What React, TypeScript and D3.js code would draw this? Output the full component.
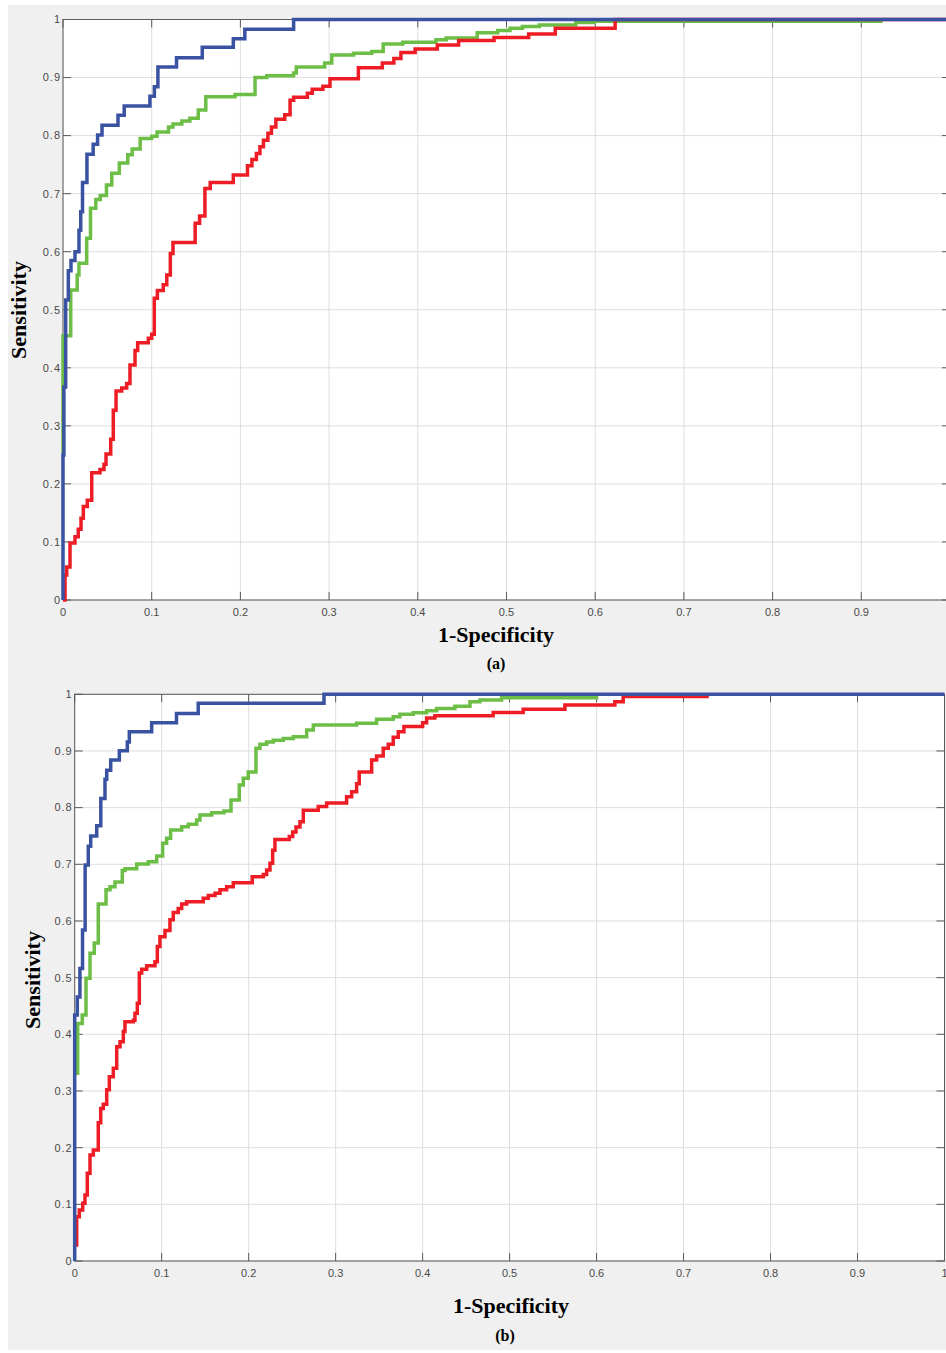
import React, { useEffect, useRef } from "react";
import * as d3 from "d3";

type Pt = [number, number];

// shared axis ticks (0 .. 1 step 0.1)
const tickValues = [0, 0.1, 0.2, 0.3, 0.4, 0.5, 0.6, 0.7, 0.8, 0.9, 1];
const xLabel = "1-Specificity";
const yLabel = "Sensitivity";

// ROC points [1-specificity, sensitivity]
const blueA: Pt[] = [
  [0, 0], [0, 0.25], [0.001, 0.367], [0.003, 0.517], [0.006, 0.567], [0.009, 0.585],
  [0.0135, 0.6], [0.018, 0.637], [0.02, 0.669], [0.022, 0.719], [0.027, 0.768],
  [0.034, 0.785], [0.039, 0.801], [0.044, 0.818], [0.062, 0.835], [0.069, 0.851],
  [0.098, 0.868], [0.103, 0.884], [0.107, 0.918], [0.128, 0.934], [0.157, 0.952],
  [0.192, 0.967], [0.205, 0.983], [0.26, 1], [1, 1],
];

const greenA: Pt[] = [
  [0, 0.253], [0, 0.455], [0.0087, 0.534], [0.016, 0.56], [0.018, 0.58], [0.0267, 0.623],
  [0.031, 0.675], [0.037, 0.69], [0.042, 0.697], [0.049, 0.715], [0.055, 0.735],
  [0.0635, 0.753], [0.073, 0.767], [0.078, 0.777], [0.087, 0.795], [0.1, 0.799],
  [0.106, 0.806], [0.119, 0.815], [0.124, 0.82], [0.134, 0.825], [0.143, 0.83],
  [0.1525, 0.844], [0.161, 0.867], [0.194, 0.871], [0.2165, 0.9], [0.2297, 0.903],
  [0.26, 0.908], [0.263, 0.918], [0.295, 0.925], [0.303, 0.939], [0.3276, 0.942],
  [0.348, 0.945], [0.361, 0.958], [0.383, 0.961], [0.4205, 0.965], [0.432, 0.968],
  [0.467, 0.977], [0.49, 0.981], [0.504, 0.985], [0.518, 0.988], [0.537, 0.9905],
  [0.578, 0.995], [0.599, 0.997], [0.922, 1],
];

const redA: Pt[] = [
  [0, 0], [0.0023, 0.043], [0.0042, 0.057], [0.0079, 0.098], [0.0135, 0.109],
  [0.0172, 0.122], [0.0203, 0.141], [0.0229, 0.161], [0.0274, 0.172], [0.0324, 0.219],
  [0.0417, 0.225], [0.0462, 0.234], [0.0485, 0.2515], [0.0538, 0.277], [0.0567, 0.327],
  [0.0598, 0.36], [0.0662, 0.365], [0.0718, 0.373], [0.0755, 0.405], [0.0812, 0.43],
  [0.0842, 0.443], [0.0962, 0.451], [0.1, 0.458], [0.1029, 0.52], [0.1064, 0.533],
  [0.113, 0.543], [0.117, 0.56], [0.121, 0.597], [0.124, 0.616], [0.149, 0.649],
  [0.154, 0.6615], [0.16, 0.709], [0.166, 0.719], [0.192, 0.732], [0.208, 0.748],
  [0.213, 0.759], [0.218, 0.769], [0.222, 0.781], [0.226, 0.792], [0.231, 0.804],
  [0.235, 0.815], [0.24, 0.828], [0.25, 0.836], [0.256, 0.861], [0.26, 0.866],
  [0.2755, 0.873], [0.281, 0.88], [0.293, 0.885], [0.301, 0.898], [0.333, 0.917],
  [0.36, 0.925], [0.373, 0.933], [0.381, 0.943], [0.397, 0.949], [0.422, 0.956],
  [0.446, 0.964], [0.486, 0.969], [0.525, 0.975], [0.555, 0.985], [0.6225, 1], [1, 1],
];

const blueB: Pt[] = [
  [0, 0], [0, 0.434], [0.003, 0.466], [0.006, 0.516], [0.009, 0.584], [0.012, 0.699],
  [0.0156, 0.732], [0.0184, 0.75], [0.0253, 0.768], [0.03, 0.816], [0.0348, 0.85],
  [0.0368, 0.866], [0.0414, 0.884], [0.0513, 0.9005], [0.0605, 0.916], [0.0628, 0.934],
  [0.0885, 0.95], [0.117, 0.966], [0.142, 0.984], [0.2866, 1], [1, 1],
];

const greenB: Pt[] = [
  [0.0034, 0.328], [0.0034, 0.419], [0.0087, 0.434], [0.013, 0.499], [0.0176, 0.543],
  [0.0225, 0.561], [0.0271, 0.63], [0.036, 0.655], [0.0406, 0.6605], [0.0463, 0.669],
  [0.0547, 0.689], [0.0578, 0.692], [0.0713, 0.7005], [0.0846, 0.7046], [0.0943, 0.7147],
  [0.1011, 0.737], [0.1057, 0.746], [0.1103, 0.7605], [0.123, 0.7664], [0.1306, 0.7706],
  [0.1402, 0.778], [0.144, 0.787], [0.1575, 0.791], [0.1716, 0.794], [0.1797, 0.8135],
  [0.1892, 0.84], [0.1938, 0.852], [0.1995, 0.863], [0.2084, 0.905], [0.213, 0.912],
  [0.2207, 0.916], [0.2283, 0.919], [0.2398, 0.922], [0.2513, 0.925], [0.2667, 0.937],
  [0.2743, 0.946], [0.3241, 0.949], [0.3471, 0.956], [0.3662, 0.9605], [0.3739, 0.9647],
  [0.3892, 0.9676], [0.4046, 0.971], [0.4161, 0.975], [0.4371, 0.979], [0.4544, 0.987],
  [0.4659, 0.99], [0.4908, 0.994], [0.6, 1],
];

const redB: Pt[] = [
  [0.0023, 0.025], [0.0023, 0.078], [0.0053, 0.09], [0.0092, 0.102], [0.0118, 0.1165],
  [0.0145, 0.155], [0.0176, 0.187], [0.0214, 0.196], [0.0271, 0.244], [0.0299, 0.269],
  [0.0329, 0.2765], [0.0368, 0.302], [0.0398, 0.325], [0.0444, 0.34], [0.0483, 0.378],
  [0.0521, 0.387], [0.0559, 0.405], [0.0578, 0.422], [0.0674, 0.425], [0.0693, 0.437],
  [0.072, 0.455], [0.0743, 0.508], [0.077, 0.515], [0.0828, 0.521], [0.0923, 0.528],
  [0.095, 0.555], [0.098, 0.572], [0.1038, 0.583], [0.1095, 0.602], [0.1133, 0.615],
  [0.119, 0.622], [0.123, 0.63], [0.1287, 0.634], [0.1478, 0.64], [0.1536, 0.645],
  [0.1613, 0.649], [0.167, 0.655], [0.1747, 0.6605], [0.1823, 0.6676], [0.2041, 0.678],
  [0.2168, 0.682], [0.2207, 0.69], [0.2245, 0.702], [0.2276, 0.725], [0.2302, 0.744],
  [0.2467, 0.749], [0.2506, 0.757], [0.2544, 0.766], [0.259, 0.775], [0.2628, 0.7955],
  [0.28, 0.802], [0.2897, 0.808], [0.3126, 0.819], [0.3184, 0.828], [0.3241, 0.842],
  [0.3271, 0.863], [0.3414, 0.884], [0.3471, 0.891], [0.3547, 0.905], [0.3605, 0.912],
  [0.3662, 0.924], [0.372, 0.934], [0.3785, 0.943], [0.4, 0.95], [0.4046, 0.958],
  [0.4141, 0.962], [0.4811, 0.968], [0.5156, 0.9735], [0.5636, 0.981], [0.621, 0.987],
  [0.6306, 0.996], [0.727, 1],
];

const GREEN = "#6dbe46";
const RED = "#ee1d25";
const BLUE = "#3a52a2";

const W = 946;
const H = 1353;

const panels = [
  {
    left: 63, right: 950, top: 19.5, bottom: 600,
    yLabelX: 26, yLabelY: 310, xLabelX: 496, xLabelY: 642, captionX: 496, captionY: 669,
    caption: "(a)",
    series: [{ data: greenA, color: GREEN }, { data: redA, color: RED }, { data: blueA, color: BLUE }],
  },
  {
    left: 74.7, right: 944.5, top: 694.3, bottom: 1261,
    yLabelX: 40, yLabelY: 980, xLabelX: 511, xLabelY: 1313, captionX: 505, captionY: 1341,
    caption: "(b)",
    series: [{ data: greenB, color: GREEN }, { data: redB, color: RED }, { data: blueB, color: BLUE }],
  },
];

const App = () => {
  const svgRef = useRef<SVGSVGElement>(null);

  useEffect(() => {
    const svg = d3.select(svgRef.current);
    svg.selectAll("*").remove();

    // figure background
    svg.append("rect")
      .attr("x", 8).attr("y", 5).attr("width", W - 8).attr("height", H - 8)
      .attr("fill", "#f0f0f0");

    const fmt = d3.format("~g");
    const tickLen = 8;
    const axisColor = "#5a5a5a";

    panels.forEach((p) => {
      const x = d3.scaleLinear().domain([0, 1]).range([p.left, p.right]);
      const y = d3.scaleLinear().domain([0, 1]).range([p.bottom, p.top]);
      const g = svg.append("g");

      g.append("rect")
        .attr("x", p.left).attr("y", p.top)
        .attr("width", p.right - p.left).attr("height", p.bottom - p.top)
        .attr("fill", "white");

      // grid
      g.selectAll(".vg").data(tickValues).join("line")
        .attr("x1", (d) => x(d)).attr("x2", (d) => x(d))
        .attr("y1", p.top).attr("y2", p.bottom)
        .attr("stroke", "#dedede").attr("stroke-width", 1);
      g.selectAll(".hg").data(tickValues).join("line")
        .attr("y1", (d) => y(d)).attr("y2", (d) => y(d))
        .attr("x1", p.left).attr("x2", p.right)
        .attr("stroke", "#dedede").attr("stroke-width", 1);

      // box
      g.append("rect")
        .attr("x", p.left).attr("y", p.top)
        .attr("width", p.right - p.left).attr("height", p.bottom - p.top)
        .attr("fill", "none").attr("stroke", axisColor).attr("stroke-width", 1);

      // ticks (inward, all four sides)
      tickValues.forEach((t) => {
        g.append("line").attr("x1", x(t)).attr("x2", x(t))
          .attr("y1", p.bottom).attr("y2", p.bottom - tickLen).attr("stroke", axisColor);
        g.append("line").attr("x1", x(t)).attr("x2", x(t))
          .attr("y1", p.top).attr("y2", p.top + tickLen).attr("stroke", axisColor);
        g.append("line").attr("y1", y(t)).attr("y2", y(t))
          .attr("x1", p.left).attr("x2", p.left + tickLen).attr("stroke", axisColor);
        g.append("line").attr("y1", y(t)).attr("y2", y(t))
          .attr("x1", p.right).attr("x2", p.right - tickLen).attr("stroke", axisColor);
      });

      // tick labels (the figure is cropped at the right, drop labels that fall outside)
      g.selectAll(".xt").data(tickValues.filter((d) => x(d) < W)).join("text")
        .attr("x", (d) => x(d)).attr("y", p.bottom + 15.5)
        .attr("text-anchor", "middle")
        .attr("font-family", "'Liberation Sans', Arial, sans-serif")
        .attr("font-size", 11).attr("fill", "#4a4a4a")
        .text((d) => fmt(d));
      g.selectAll(".yt").data(tickValues).join("text")
        .attr("x", p.left - 2).attr("y", (d) => y(d)).attr("dy", "0.35em")
        .attr("text-anchor", "end")
        .attr("font-family", "'Liberation Sans', Arial, sans-serif")
        .attr("font-size", 11).attr("letter-spacing", 1).attr("fill", "#4a4a4a")
        .text((d) => fmt(d));

      // ROC curves
      const line = d3.line<Pt>()
        .x((d) => x(d[0]))
        .y((d) => y(d[1]))
        .curve(d3.curveStepAfter);

      p.series.forEach((s) => {
        g.append("path")
          .datum(s.data)
          .attr("fill", "none")
          .attr("stroke", s.color)
          .attr("stroke-width", 3.5)
          .attr("stroke-linejoin", "miter")
          .attr("d", line);
      });

      // axis labels
      const serif = "'Liberation Serif', 'Times New Roman', serif";
      g.append("text")
        .attr("transform", `translate(${p.yLabelX}, ${p.yLabelY}) rotate(-90)`)
        .attr("text-anchor", "middle")
        .attr("font-family", serif).attr("font-weight", "bold").attr("font-size", 22)
        .attr("fill", "#000")
        .text(yLabel);
      g.append("text")
        .attr("x", p.xLabelX).attr("y", p.xLabelY)
        .attr("text-anchor", "middle")
        .attr("font-family", serif).attr("font-weight", "bold").attr("font-size", 22)
        .attr("fill", "#000")
        .text(xLabel);
      g.append("text")
        .attr("x", p.captionX).attr("y", p.captionY)
        .attr("text-anchor", "middle")
        .attr("font-family", serif).attr("font-weight", "bold").attr("font-size", 16)
        .attr("fill", "#000")
        .text(p.caption);
    });
  }, []);

  return (
    <div style={{ position: "absolute", left: 0, top: 0 }}>
      <svg ref={svgRef} width={W} height={H} style={{ display: "block" }}></svg>
    </div>
  );
};

export default App;
